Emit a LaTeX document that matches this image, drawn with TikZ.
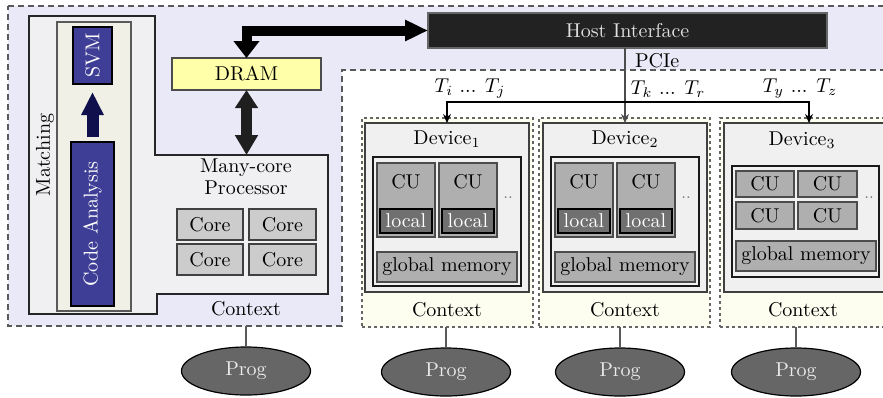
\documentclass[tikz,border=0pt]{standalone}
\usetikzlibrary{arrows.meta,shapes.geometric,fit}
\definecolor{lav}{RGB}{233,233,247}
\definecolor{matchfill}{RGB}{240,240,243}
\definecolor{beige}{RGB}{240,240,230}
\definecolor{bluebox}{RGB}{62,62,150}
\definecolor{navyarrow}{RGB}{16,16,76}
\definecolor{dramy}{RGB}{255,255,170}
\definecolor{hostblack}{RGB}{34,34,34}
\definecolor{devfill}{RGB}{240,240,240}
\definecolor{ctxfill}{RGB}{253,253,240}
\definecolor{cugray}{RGB}{175,175,175}
\definecolor{localgray}{RGB}{112,112,112}
\definecolor{coregray}{RGB}{204,204,204}
\definecolor{proggray}{RGB}{102,102,102}
\begin{document}
\begin{tikzpicture}[x=0.5pt,y=-0.5pt,
  area/.style={inner sep=0pt, outer sep=0pt},
  panel/.style={area, draw=black!75, line width=0.6pt, fill=devfill},
  cubox/.style={area, draw=black!70, line width=0.6pt, fill=cugray},
  localbox/.style={area, draw=black, line width=1pt, fill=localgray},
  corebox/.style={area, draw=black!75, line width=0.6pt, fill=coregray},
  bluepanel/.style={area, draw=black, line width=0.8pt, fill=bluebox},
  ctxbox/.style={area, draw=black!60, dash pattern=on 1.5pt off 1.5pt, line width=0.6pt, fill=ctxfill},
  prog/.style={ellipse, draw=black, line width=0.6pt, fill=proggray, text=black!8,
    minimum width=64.5pt, minimum height=24pt, inner sep=0pt},
  link/.style={draw=black!65, line width=0.6pt},
  feed/.style={draw=black, line width=0.6pt, -{Stealth[length=4.5pt,width=4pt]}},
  dotsl/.style={text=black!55, font=\footnotesize},
  txt/.style={inner sep=0pt},
]
\useasboundingbox (0,0) rectangle (883,397);
\clip (0,0) rectangle (883,397);

% host side region (lavender) with the device region cut out
\draw[fill=lav, draw=black!65, dash pattern=on 3pt off 2pt, line width=0.6pt]
  (8,6) -- (895,6) -- (895,70) -- (342,70) -- (342,326) -- (8,326) -- cycle;

% matching block joined with the many-core processor area
\draw[fill=matchfill, draw=black!85, line width=0.6pt]
  (29,16) -- (155,16) -- (155,155) -- (328,155) -- (328,294) -- (157,294)
  -- (157,314) -- (29,314) -- cycle;
\node[rotate=90] (matchlbl) at (45,155) {Matching};
\node[area, draw=black!65, line width=0.6pt, fill=beige, fit={(57,22)(131,311)}] (flow) {};
\node[bluepanel, fit={(73,27)(112,84)}] (svm) {};
\node[rotate=90, text=white] (svmlbl) at (svm.center) {SVM};
\node[bluepanel, fit={(71,142)(114,306)}] (code) {};
\node[rotate=90, text=white] (codelbl) at (code.center) {Code Analysis};
\draw[navyarrow, line width=6pt, shorten <=2.5pt, shorten >=4pt,
  -{Triangle[width=10.5pt,length=11.5pt]}] (code.north) -- (svm.south);

% memory and host interface
\node[area, draw=black!70, line width=0.6pt, fill=dramy, fit={(172,58)(321,90)}] (dram) {};
\node[txt] (dramlbl) at (dram.center) {DRAM};
\node[area, draw=black!60, line width=0.6pt, fill=hostblack, fit={(428,13)(827,48)}] (host) {};
\node[txt, text=black!12] (hostlbl) at (host.center) {Host Interface};
\draw[black, line width=5pt,
  {Triangle[width=12.5pt,length=8.5pt]}-{Triangle[width=10pt,length=11.5pt]}]
  (dram.north) |- (host.west);
\coordinate (proctop) at (246.5,155);
\draw[black!88, line width=5.5pt,
  {Triangle[width=11pt,length=9pt]}-{Triangle[width=11pt,length=10pt]}]
  (dram.south) -- (proctop);

% many-core processor
\node[align=center] (proclbl) at (246,177) {Many-core\\[-1pt]Processor};
\node[corebox, fit={(177,209)(243,240)}] (core1) {};
\node[corebox, fit={(249,209)(316,240)}] (core2) {};
\node[corebox, fit={(177,244)(243,275)}] (core3) {};
\node[corebox, fit={(249,244)(316,275)}] (core4) {};
\foreach \c in {core1,core2,core3,core4} \node[txt] at (\c.center) {Core};
\node (ctx0) at (246,309) {Context};

% device contexts
\node[ctxbox, fit={(362,118)(533,327)}] (dev1ctx) {};
\node[ctxbox, fit={(539,118)(710,327)}] (dev2ctx) {};
\node[ctxbox, fit={(720,118)(905,327)}] (dev3ctx) {};

% device 1
\node[panel, fit={(365,123)(529,292)}] (dev1) {};
\node (dev1lbl) at (447,139) {Device$_1$};
\node[panel, draw=black!90, fit={(373,157)(521,286)}] (dev1in) {};
\node[cubox, fit={(377,163)(435,237)}] (cu11) {};
\node (cu11lbl) at (406,182) {CU};
\node[localbox, fit={(380,209)(432,233)}] (loc11) {};
\node[cubox, fit={(439,163)(497,237)}] (cu12) {};
\node (cu12lbl) at (468,182) {CU};
\node[localbox, fit={(442,209)(494,233)}] (loc12) {};
\node[dotsl] (dots1) at (508,198) {..};
\node[cubox, fit={(377,252)(517,282)}] (gm1) {};
\node (ctx1) at (447,310) {Context};

% device 2
\node[panel, fit={(543,123)(707,292)}] (dev2) {};
\node (dev2lbl) at (625,139) {Device$_2$};
\node[panel, draw=black!90, fit={(551,157)(699,286)}] (dev2in) {};
\node[cubox, fit={(555,163)(613,237)}] (cu21) {};
\node (cu21lbl) at (584,182) {CU};
\node[localbox, fit={(558,209)(610,233)}] (loc21) {};
\node[cubox, fit={(617,163)(675,237)}] (cu22) {};
\node (cu22lbl) at (646,182) {CU};
\node[localbox, fit={(620,209)(672,233)}] (loc22) {};
\node[dotsl] (dots2) at (686,198) {..};
\node[cubox, fit={(555,252)(695,282)}] (gm2) {};
\node (ctx2) at (625,310) {Context};

% device 3
\node[panel, fit={(724,123)(894,292)}] (dev3) {};
\node (dev3lbl) at (802,140) {Device$_3$};
\node[panel, draw=black!90, fit={(732,166)(879,277)}] (dev3in) {};
\node[cubox, fit={(736,171)(794,197)}] (cu31) {};
\node[cubox, fit={(798,171)(857,197)}] (cu32) {};
\node[cubox, fit={(736,202)(794,229)}] (cu33) {};
\node[cubox, fit={(798,202)(857,229)}] (cu34) {};
\foreach \c in {cu31,cu32,cu33,cu34} \node[txt] at (\c.center) {CU};
\node[dotsl] (dots3) at (869,198) {..};
\node[cubox, fit={(736,241)(876,271)}] (gm3) {};
\node (ctx3) at (803,310) {Context};

% labels of the local and global memories
\foreach \m in {loc11,loc12,loc21,loc22} \node[txt, text=white] at (\m.center) {local};
\foreach \m in {gm1,gm2,gm3} \node[txt] at (\m.center) {global memory};

% PCIe work distribution
\node[anchor=west] (pcie) at (628,61) {PCIe};
\draw[feed, draw=black!70] (host.south -| dev2.north) -- (dev2.north);
\coordinate (split) at (625,102);
\draw[feed] (split) -| (dev1.north);
\draw[feed] (split) -| (dev3.north);
\node (tij) at (470,89) {$T_i$ ... $T_j$};
\node (tkr) at (668,89) {$T_k$ ... $T_r$};
\node (tyz) at (800,89) {$T_y$ ... $T_z$};

% programs
\coordinate (hostctx) at (246,326);
\node[prog] (prog0) at (246,371) {Prog};
\node[prog] (prog1) at (446,372) {Prog};
\node[prog] (prog2) at (620,372) {Prog};
\node[prog] (prog3) at (796,372) {Prog};
\draw[link] (hostctx) -- (prog0.north);
\draw[link] (dev1ctx.south -| prog1.north) -- (prog1.north);
\draw[link] (dev2ctx.south -| prog2.north) -- (prog2.north);
\draw[link] (dev3ctx.south -| prog3.north) -- (prog3.north);
\end{tikzpicture}
\end{document}
